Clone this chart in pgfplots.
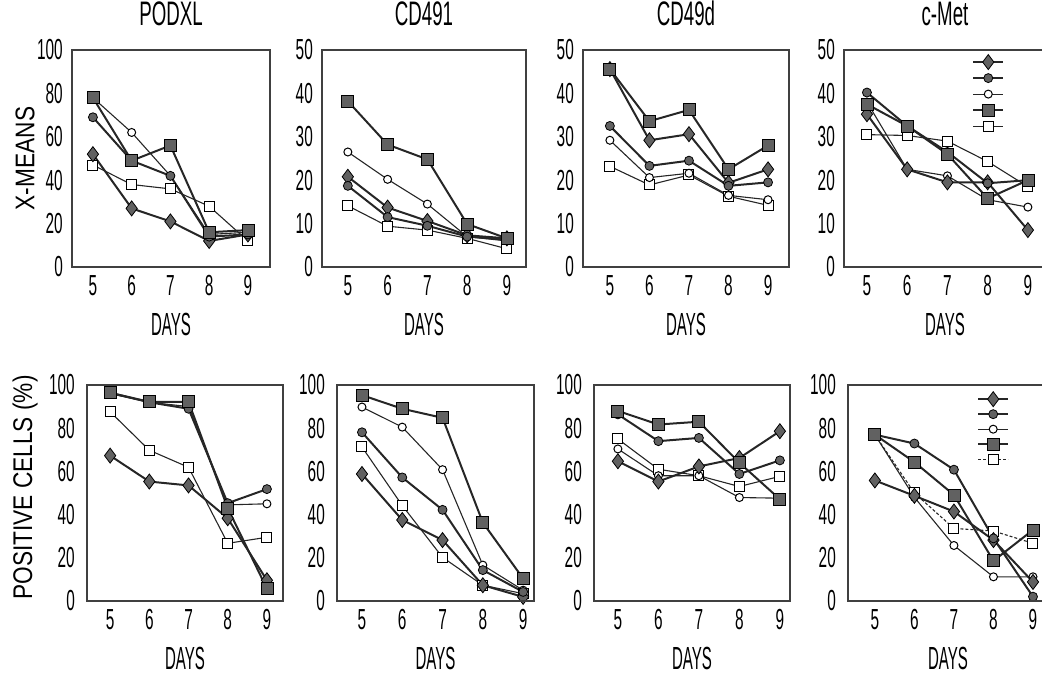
\documentclass[border=0pt]{standalone}
\usepackage{fontspec}
\setmainfont{Liberation Sans}[FakeStretch=0.55]
\newfontfamily\labfont{Liberation Sans}[FakeStretch=0.84]
\newfontfamily\daysfont{Liberation Sans}[FakeStretch=0.47]
\newfontfamily\tickfont{Liberation Sans}[FakeStretch=0.53]
\usepackage{pgfplots}
\pgfplotsset{compat=1.18}
\pgfplotsset{legend image code/.code={\draw[mark repeat=2,mark phase=2,#1] plot coordinates {(0pt,0pt) (15pt,0pt) (30pt,0pt)};}}
\pgfplotsset{
  panel/.style={
    scale only axis, anchor=south west, ymin=0,
    xtick={5,6,7,8,9}, major tick length=0pt, clip=false,
    axis line style={draw=black!75},
    after end axis/.code={\draw[line width=2.6pt, black!75] (rel axis cs:0,0) rectangle (rel axis cs:1,1);},
    /pgf/number format/assume math mode=true,
    tick label style={font=\tickfont\fontsize{29}{29}\selectfont},
    yticklabel style={inner sep=0pt, xshift=-9pt},
    xticklabel style={inner sep=0pt, yshift=-8pt},
    xlabel={DAYS},
    xlabel style={at={(axis description cs:0.5,-0.265)}, anchor=center, font=\daysfont\fontsize{32}{32}\selectfont},
    title style={at={(axis description cs:0.5,1.14)}, anchor=center, font=\fontsize{34}{34}\selectfont},
    ylabel style={anchor=center, font=\labfont\fontsize{27}{27}\selectfont},
  },
  sD/.style={black!85, line width=2pt, mark=diamond*, mark size=7.5pt, mark options={solid, fill=black!62, draw=black, line width=0.8pt}},
  sC/.style={black!85, line width=2pt, mark=*, mark size=4.5pt, mark options={solid, fill=black!62, draw=black, line width=0.8pt}},
  sO/.style={black!85, line width=1.1pt, mark=*, mark size=4pt, mark options={solid, fill=white, draw=black, line width=1pt}},
  sS/.style={black!85, line width=2pt, mark=square*, mark size=6pt, mark options={solid, fill=black!62, draw=black, line width=0.8pt}},
  sQ/.style={black!85, line width=1.1pt, mark=square*, mark size=5pt, mark options={solid, fill=white, draw=black, line width=1pt}},
}
\begin{document}
\begin{tikzpicture}
\useasboundingbox (0pt,0pt) rectangle (1042pt,677pt);
% ---------- top row ----------
\begin{axis}[panel, at={(72pt,410pt)}, width=198pt, height=217pt, xmin=4.46, xmax=9.57,
  ymax=100, ytick={0,20,...,100}, title={PODXL}, ylabel={X-MEANS},
  ylabel style={at={(axis description cs:-0.237,0.5)}}]
\addplot[sQ] coordinates {(5,47)(6,38)(7,36)(8,28)(9,12)};
\addplot[sO] coordinates {(5,78)(6,62)(7,42)(8,15)(9,16)};
\addplot[sD] coordinates {(5,52)(6,27)(7,21)(8,12)(9,15)};
\addplot[sC] coordinates {(5,69)(6,49)(7,42)(8,14)(9,15)};
\addplot[sS] coordinates {(5,78)(6,49)(7,56)(8,16)(9,17)};
\end{axis}
\begin{axis}[panel, at={(322pt,410pt)}, width=204pt, height=217pt, xmin=4.35, xmax=9.48,
  ymax=50, ytick={0,10,...,50}, title={CD491}]
\addplot[sQ] coordinates {(5,14.1)(6,9.4)(7,8.5)(8,6.6)(9,4.2)};
\addplot[sO] coordinates {(5,26.5)(6,20.2)(7,14.5)(8,7)(9,6)};
\addplot[sD] coordinates {(5,20.8)(6,13.7)(7,10.6)(8,7.3)(9,6.6)};
\addplot[sC] coordinates {(5,18.7)(6,11.5)(7,9.5)(8,7)(9,6.3)};
\addplot[sS] coordinates {(5,38.2)(6,28.2)(7,24.8)(8,9.9)(9,6.6)};
\end{axis}
\begin{axis}[panel, at={(583pt,410pt)}, width=206pt, height=217pt, xmin=4.32, xmax=9.53,
  ymax=50, ytick={0,10,...,50}, title={CD49d}]
\addplot[sQ] coordinates {(5,23.2)(6,18.9)(7,21.2)(8,16.3)(9,14.2)};
\addplot[sO] coordinates {(5,29.2)(6,20.6)(7,21.6)(8,16.5)(9,15.5)};
\addplot[sD] coordinates {(5,45.6)(6,29.2)(7,30.6)(8,19.4)(9,22.5)};
\addplot[sC] coordinates {(5,32.5)(6,23.3)(7,24.5)(8,18.7)(9,19.5)};
\addplot[sS] coordinates {(5,45.6)(6,33.6)(7,36.2)(8,22.5)(9,28)};
\end{axis}
\begin{axis}[panel, at={(844pt,410pt)}, width=202pt, height=217pt, xmin=4.43, xmax=9.45,
  ymax=50, ytick={0,10,...,50}, title={c-Met},
  legend style={at={(0.634,0.982)}, anchor=north west, draw=none, fill=none, inner sep=0pt,
    row sep=0pt, nodes={minimum height=16pt, inner sep=0pt}}]
\addplot[sQ, forget plot] coordinates {(5,30.5)(6,30.3)(7,29)(8,24.3)(9,18.5)};
\addplot[sO, forget plot] coordinates {(5,38)(6,22.5)(7,21)(8,15.5)(9,13.8)};
\addplot[sD, forget plot] coordinates {(5,35.2)(6,22.5)(7,19.5)(8,19.5)(9,8.5)};
\addplot[sC, forget plot] coordinates {(5,40.2)(6,32.5)(7,26.5)(8,19.3)(9,20)};
\addplot[sS, forget plot] coordinates {(5,37.5)(6,32.5)(7,26)(8,15.8)(9,20)};
\addlegendimage{sD}\addlegendentry{\null}
\addlegendimage{sC}\addlegendentry{\null}
\addlegendimage{sO}\addlegendentry{\null}
\addlegendimage{sS}\addlegendentry{\null}
\addlegendimage{sQ}\addlegendentry{\null}
\end{axis}
% ---------- bottom row ----------
\begin{axis}[panel, at={(87pt,76pt)}, width=196pt, height=216pt, xmin=4.41, xmax=9.41,
  ymax=100, ytick={0,20,...,100}, ylabel={POSITIVE CELLS (\%)},
  ylabel style={at={(axis description cs:-0.316,0.525)}},
  yticklabel style={xshift=-3pt}]
\addplot[sQ] coordinates {(5,87.6)(6,69.8)(7,61.9)(8,26.7)(9,29.5)};
\addplot[sO] coordinates {(5,96)(6,92)(7,90)(8,44.5)(9,45)};
\addplot[sD] coordinates {(5,67.3)(6,55.3)(7,53.5)(8,38.3)(9,9.6)};
\addplot[sC] coordinates {(5,96.4)(6,92)(7,89)(8,45.3)(9,51.8)};
\addplot[sS] coordinates {(5,96.4)(6,92.2)(7,92.2)(8,43)(9,5.7)};
\end{axis}
\begin{axis}[panel, at={(337pt,76pt)}, width=197pt, height=216pt, xmin=4.38, xmax=9.27,
  ymax=100, ytick={0,20,...,100}, yticklabel style={xshift=-3pt}]
\addplot[sQ] coordinates {(5,71.3)(6,44.2)(7,20.2)(8,7.3)(9,3.4)};
\addplot[sO] coordinates {(5,89.8)(6,80.5)(7,60.8)(8,16.6)(9,5)};
\addplot[sD] coordinates {(5,58.8)(6,37.5)(7,28.2)(8,7.3)(9,1.9)};
\addplot[sC] coordinates {(5,78.1)(6,57.2)(7,42.2)(8,14.3)(9,4.2)};
\addplot[sS] coordinates {(5,95.3)(6,89)(7,84.8)(8,36.3)(9,10.4)};
\end{axis}
\begin{axis}[panel, at={(594pt,76pt)}, width=196pt, height=216pt, xmin=4.41, xmax=9.25,
  ymax=100, ytick={0,20,...,100}, yticklabel style={xshift=-3pt}]
\addplot[sQ] coordinates {(5,75)(6,61)(7,58)(8,53)(9,57.7)};
\addplot[sO] coordinates {(5,70.4)(6,58)(7,58)(8,47.9)(9,47.6)};
\addplot[sD] coordinates {(5,64.7)(6,55.3)(7,62.3)(8,66.2)(9,78.6)};
\addplot[sC] coordinates {(5,86.4)(6,74)(7,75.5)(8,58.8)(9,65.1)};
\addplot[sS] coordinates {(5,88)(6,81.7)(7,83)(8,64)(9,47.1)};
\end{axis}
\begin{axis}[panel, at={(848pt,76pt)}, width=200pt, height=216pt, xmin=4.32, xmax=9.38,
  ymax=100, ytick={0,20,...,100}, yticklabel style={xshift=-3pt},
  legend style={at={(0.645,0.97)}, anchor=north west, draw=none, fill=none, inner sep=0pt,
    row sep=0pt, nodes={minimum height=15pt, inner sep=0pt}}]
\addplot[sQ, densely dashed, forget plot] coordinates {(5,77)(6,50)(7,33.6)(8,32.4)(9,26.7)};
\addplot[sO, forget plot] coordinates {(5,77)(6,48)(7,25.7)(8,11.2)(9,11.2)};
\addplot[sD, forget plot] coordinates {(5,55.8)(6,48.7)(7,41.4)(8,28.2)(9,8.8)};
\addplot[sC, forget plot] coordinates {(5,77)(6,72.9)(7,60.8)(8,29)(9,2)};
\addplot[sS, forget plot] coordinates {(5,77)(6,64.3)(7,49.1)(8,18.6)(9,32.9)};
\addlegendimage{sD}\addlegendentry{\null}
\addlegendimage{sC}\addlegendentry{\null}
\addlegendimage{sO}\addlegendentry{\null}
\addlegendimage{sS}\addlegendentry{\null}
\addlegendimage{sQ, densely dashed}\addlegendentry{\null}
\end{axis}
\end{tikzpicture}
\end{document}
